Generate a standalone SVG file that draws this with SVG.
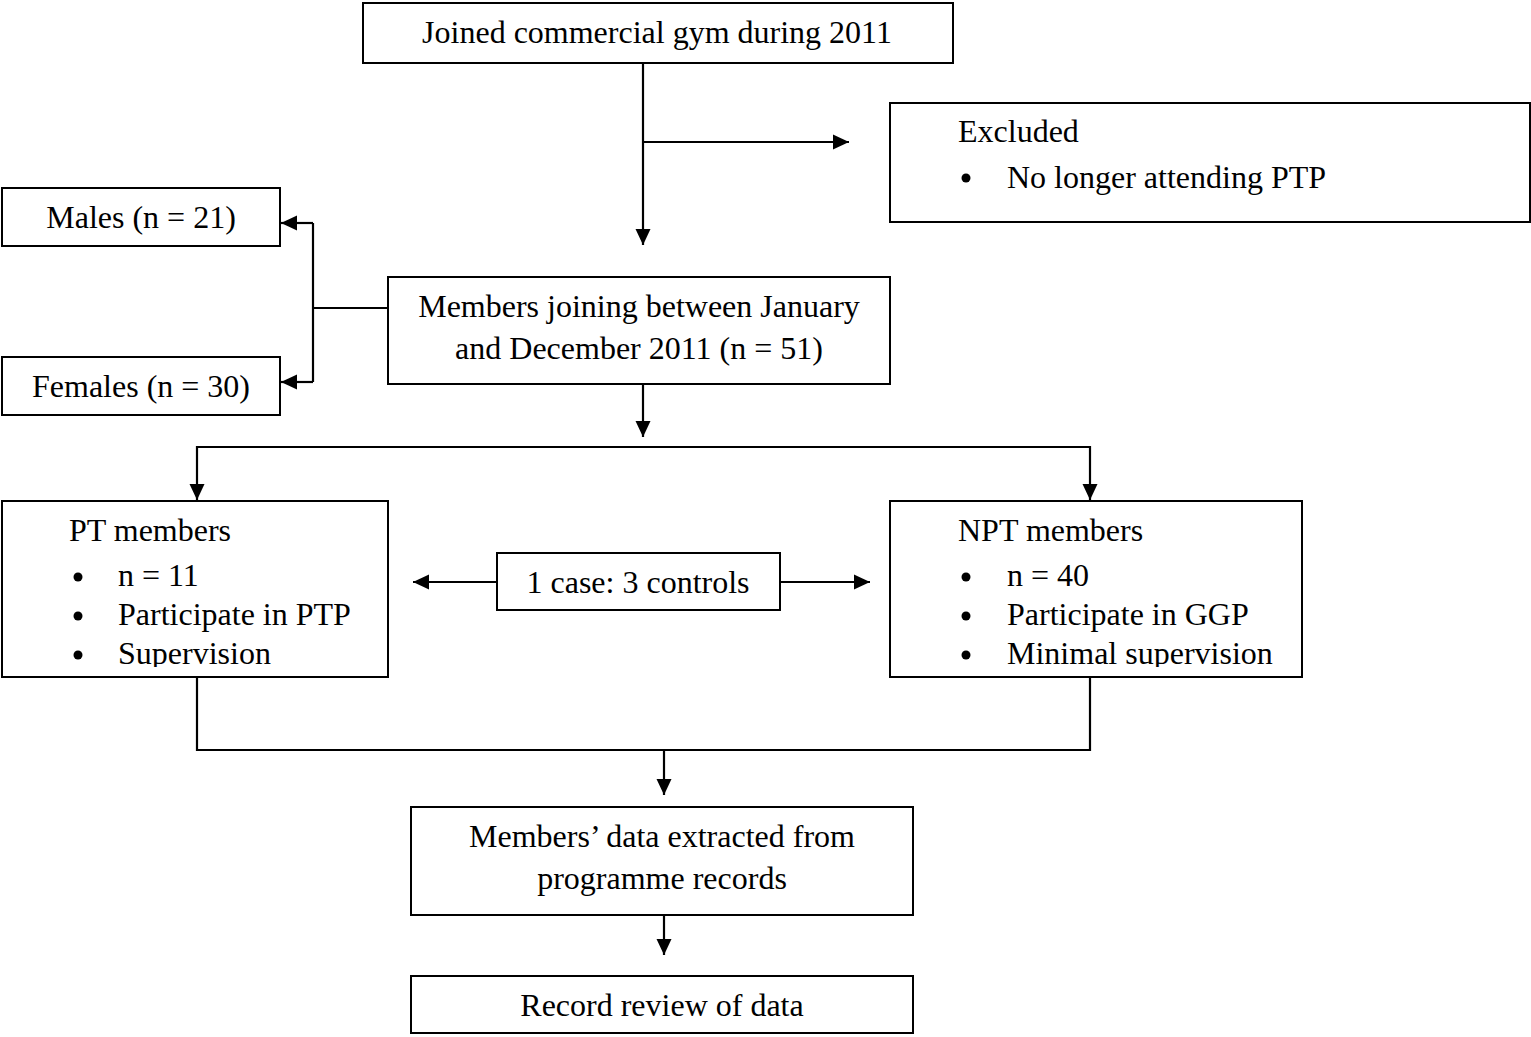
<svg xmlns="http://www.w3.org/2000/svg" width="1531" height="1037" viewBox="0 0 1531 1037">
<style>
rect.box{fill:#fff;stroke:#000;stroke-width:2}
text{font-family:"Liberation Serif","Times New Roman",serif;font-size:32px;fill:#000}
.c{text-anchor:middle}
.conn line,.conn polyline{stroke:#000;stroke-width:2.2;fill:none}
.bul{fill:#000}
</style>
<defs>
<marker id="ah" markerUnits="userSpaceOnUse" markerWidth="17" markerHeight="16" refX="16" refY="8" orient="auto">
<path d="M0,0.5 L16,8 L0,15.5 z" fill="#000"/>
</marker>
<clipPath id="clipPT"><rect x="2" y="501" width="386" height="166"/></clipPath>
<clipPath id="clipNPT"><rect x="890" y="501" width="412" height="166"/></clipPath>
</defs>
<g class="conn">
<line x1="643" y1="63" x2="643" y2="245" marker-end="url(#ah)"/>
<line x1="643" y1="142" x2="849" y2="142" marker-end="url(#ah)"/>
<line x1="388" y1="308" x2="313" y2="308"/>
<polyline points="313,223 313,382"/>
<line x1="313" y1="223" x2="281" y2="223" marker-end="url(#ah)"/>
<line x1="313" y1="382" x2="281" y2="382" marker-end="url(#ah)"/>
<line x1="643" y1="384" x2="643" y2="437" marker-end="url(#ah)"/>
<line x1="197" y1="447" x2="1090" y2="447"/>
<line x1="197" y1="446" x2="197" y2="500" marker-end="url(#ah)"/>
<line x1="1090" y1="446" x2="1090" y2="500" marker-end="url(#ah)"/>
<line x1="497" y1="582" x2="413" y2="582" marker-end="url(#ah)"/>
<line x1="780" y1="582" x2="870" y2="582" marker-end="url(#ah)"/>
<polyline points="197,677 197,750 1090,750 1090,677"/>
<line x1="664" y1="750" x2="664" y2="795" marker-end="url(#ah)"/>
<line x1="664" y1="915" x2="664" y2="955" marker-end="url(#ah)"/>
</g>
<g id="joined">
<rect class="box" x="363" y="3" width="590" height="60"/>
<text class="c" x="657" y="43">Joined commercial gym during 2011</text>
</g>
<g id="excluded">
<rect class="box" x="890" y="103" width="640" height="119"/>
<text x="958" y="142">Excluded</text>
<circle class="bul" cx="966" cy="178" r="4.5"/>
<text x="1007" y="188">No longer attending PTP</text>
</g>
<g id="males">
<rect class="box" x="2" y="188" width="278" height="58"/>
<text class="c" x="141" y="228">Males (n = 21)</text>
</g>
<g id="females">
<rect class="box" x="2" y="357" width="278" height="58"/>
<text class="c" x="141" y="397">Females (n = 30)</text>
</g>
<g id="members">
<rect class="box" x="388" y="277" width="502" height="107"/>
<text class="c" x="639" y="317">Members joining between January</text>
<text class="c" x="639" y="359">and December 2011 (n = 51)</text>
</g>
<g id="pt">
<rect class="box" x="2" y="501" width="386" height="176"/>
<g clip-path="url(#clipPT)">
<text x="69" y="541">PT members</text>
<circle class="bul" cx="78" cy="577" r="4.5"/>
<text x="118" y="586">n = 11</text>
<circle class="bul" cx="78" cy="616" r="4.5"/>
<text x="118" y="625">Participate in PTP</text>
<circle class="bul" cx="78" cy="655" r="4.5"/>
<text x="118" y="664">Supervision</text>
</g>
</g>
<g id="ratio">
<rect class="box" x="497" y="553" width="283" height="57"/>
<text class="c" x="638" y="593">1 case: 3 controls</text>
</g>
<g id="npt">
<rect class="box" x="890" y="501" width="412" height="176"/>
<g clip-path="url(#clipNPT)">
<text x="958" y="541">NPT members</text>
<circle class="bul" cx="966" cy="577" r="4.5"/>
<text x="1007" y="586">n = 40</text>
<circle class="bul" cx="966" cy="616" r="4.5"/>
<text x="1007" y="625">Participate in GGP</text>
<circle class="bul" cx="966" cy="655" r="4.5"/>
<text x="1007" y="664">Minimal supervision</text>
</g>
</g>
<g id="extracted">
<rect class="box" x="411" y="807" width="502" height="108"/>
<text class="c" x="662" y="847">Members’ data extracted from</text>
<text class="c" x="662" y="889">programme records</text>
</g>
<g id="review">
<rect class="box" x="411" y="976" width="502" height="57"/>
<text class="c" x="662" y="1016">Record review of data</text>
</g>
</svg>
